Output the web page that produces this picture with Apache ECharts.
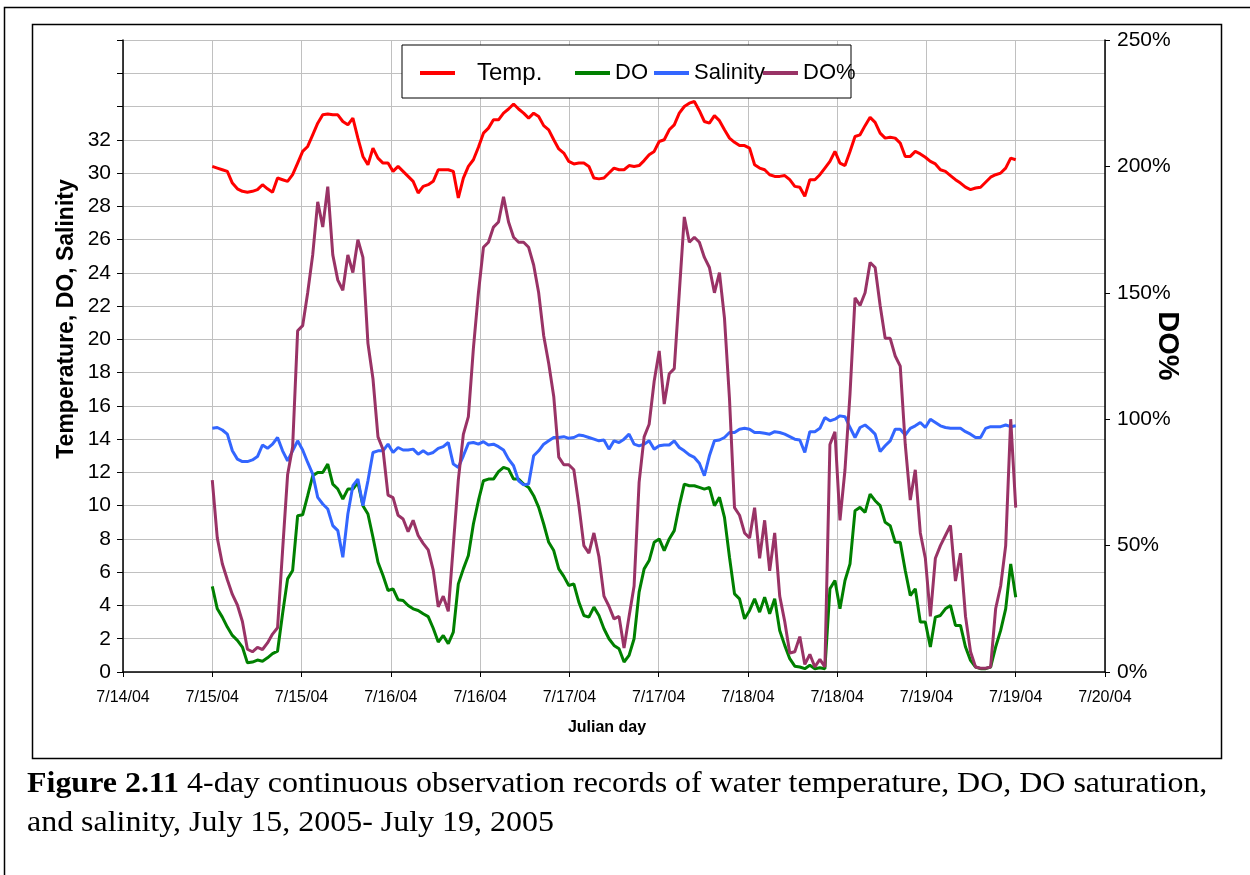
<!DOCTYPE html>
<html>
<head>
<meta charset="utf-8">
<title>Figure 2.11</title>
<script src="https://cdn.jsdelivr.net/npm/echarts@6/dist/echarts.min.js"></script>
<style>
  html, body { margin: 0; padding: 0; background: #fff; }
  #chart { width: 1250px; height: 875px; }
</style>
</head>
<body>
<div id="chart"></div>
<script>
// tick labels of the date axis (Excel prints only the date part)
var xLabels = ['7/14/04', '7/15/04', '7/15/04', '7/16/04', '7/16/04', '7/17/04',
  '7/17/04', '7/18/04', '7/18/04', '7/19/04', '7/19/04', '7/20/04'];
var leftTicks = [0, 2, 4, 6, 8, 10, 12, 14, 16, 18, 20, 22, 24, 26, 28, 30, 32];
var rightTicks = [0, 50, 100, 150, 200, 250];

// logger records run from the 2nd to the 10th axis tick, evenly spaced
var recStart = 1;
var recEnd = 10;

// water temperature (deg C)
var temp = [
  30.4, 30.3, 30.2, 30.1, 29.4, 29.05, 28.9, 28.85, 28.9, 29.0,
  29.3, 29.05, 28.85, 29.7, 29.6, 29.5, 29.9, 30.6, 31.3, 31.6,
  32.3, 33.0, 33.5, 33.55, 33.5, 33.5, 33.1, 32.9, 33.3, 32.1,
  31.0, 30.5, 31.5, 30.9, 30.6, 30.6, 30.1, 30.4, 30.1, 29.8,
  29.5, 28.8, 29.2, 29.3, 29.5, 30.2, 30.2, 30.2, 30.1, 28.5,
  29.7, 30.4, 30.8, 31.55, 32.4, 32.7, 33.2, 33.2, 33.6, 33.85,
  34.15, 33.85, 33.6, 33.3, 33.6, 33.4, 32.85, 32.6, 32.0, 31.45,
  31.2, 30.7, 30.55, 30.6, 30.6, 30.4, 29.7, 29.65, 29.7, 30.0,
  30.3, 30.2, 30.2, 30.45, 30.4, 30.45, 30.75, 31.1, 31.3, 31.9,
  32.0, 32.6, 32.9, 33.6, 34.0, 34.2, 34.3, 33.75, 33.1, 33.0,
  33.45, 33.15, 32.6, 32.1, 31.85, 31.65, 31.65, 31.5, 30.5, 30.3,
  30.2, 29.9, 29.8, 29.8, 29.85, 29.6, 29.2, 29.15, 28.6, 29.6,
  29.6, 29.9, 30.3, 30.7, 31.3, 30.6, 30.45, 31.3, 32.2, 32.3,
  32.85, 33.35, 33.05, 32.4, 32.1, 32.15, 32.1, 31.8, 31.0, 31.0,
  31.3, 31.15, 30.95, 30.7, 30.55, 30.2, 30.1, 29.85, 29.6, 29.4,
  29.15, 29.0, 29.1, 29.15, 29.45, 29.75, 29.9, 30.0, 30.3, 30.9,
  30.8
];

// dissolved oxygen (mg/L)
var dO = [
  5.15, 3.8, 3.3, 2.7, 2.2, 1.9, 1.5, 0.55, 0.6, 0.72,
  0.65, 0.85, 1.1, 1.25, 3.5, 5.6, 6.1, 9.4, 9.45, 10.6,
  11.8, 12.0, 12.0, 12.5, 11.3, 11.0, 10.4, 11.0, 11.0, 11.4,
  10.0, 9.5, 8.1, 6.6, 5.8, 4.9, 5.0, 4.35, 4.3, 4.0,
  3.8, 3.7, 3.5, 3.33, 2.63, 1.8, 2.2, 1.7, 2.4, 5.3,
  6.2, 7.0, 8.9, 10.3, 11.5, 11.6, 11.6, 12.05, 12.3, 12.2,
  11.6, 11.6, 11.3, 11.1, 10.6, 9.9, 8.9, 7.8, 7.3, 6.2,
  5.75, 5.2, 5.3, 4.2, 3.4, 3.3, 3.9, 3.4, 2.6, 2.0,
  1.6, 1.4, 0.6, 1.0, 2.0, 4.8, 6.2, 6.7, 7.8, 8.0,
  7.3, 8.0, 8.5, 10.0, 11.3, 11.2, 11.2, 11.1, 11.0, 11.1,
  10.0, 10.5, 9.3, 6.9, 4.7, 4.4, 3.2, 3.7, 4.4, 3.6,
  4.5, 3.5, 4.4, 2.5, 1.6, 0.8, 0.35, 0.3, 0.2, 0.4,
  0.2, 0.25, 0.2, 5.0, 5.5, 3.8, 5.5, 6.5, 9.7, 9.9,
  9.6, 10.7, 10.3, 10.0, 9.0, 8.8, 7.8, 7.8, 6.1, 4.6,
  5.0, 3.0, 3.0, 1.5, 3.3, 3.4, 3.8, 4.0, 2.8, 2.8,
  1.5, 0.7, 0.3, 0.2, 0.2, 0.3, 1.5, 2.5, 3.8, 6.5,
  4.5
];

// salinity (ppt)
var salinity = [
  14.65, 14.7, 14.55, 14.3, 13.3, 12.8, 12.65, 12.65, 12.75, 12.95,
  13.65, 13.45, 13.7, 14.1, 13.3, 12.7, 13.3, 13.9, 13.35, 12.6,
  11.9, 10.5, 10.1, 9.8, 8.8, 8.5, 6.9, 9.5, 11.2, 11.6,
  10.0, 11.5, 13.2, 13.3, 13.3, 13.7, 13.2, 13.5, 13.35, 13.35,
  13.4, 13.1, 13.3, 13.1, 13.2, 13.45, 13.55, 13.8, 12.5, 12.3,
  13.0, 13.75, 13.8, 13.7, 13.85, 13.65, 13.7, 13.55, 13.35, 12.8,
  12.4, 11.5, 11.25, 11.3, 13.0, 13.3, 13.7, 13.9, 14.1, 14.1,
  14.15, 14.05, 14.1, 14.25, 14.2, 14.1, 14.0, 13.9, 13.95, 13.4,
  13.9, 13.8, 14.0, 14.3, 13.7, 13.6, 13.7, 13.9, 13.4, 13.6,
  13.65, 13.65, 13.9, 13.5, 13.3, 13.05, 12.9, 12.55, 11.8, 13.0,
  13.9, 13.95, 14.1, 14.4, 14.4, 14.6, 14.65, 14.6, 14.4, 14.4,
  14.35, 14.3, 14.45, 14.4, 14.3, 14.15, 14.0, 13.95, 13.2, 14.45,
  14.45, 14.65, 15.3, 15.1, 15.2, 15.4, 15.35, 14.7, 14.1, 14.7,
  14.85, 14.6, 14.3, 13.25, 13.6, 13.9, 14.6, 14.6, 14.25, 14.65,
  14.8, 15.0, 14.7, 15.2, 15.0, 14.8, 14.7, 14.65, 14.65, 14.65,
  14.45, 14.3, 14.1, 14.1, 14.65, 14.75, 14.75, 14.75, 14.85, 14.75,
  14.8
];

// DO saturation (%)
var doPct = [
  75.9, 53, 42.8, 36.5, 30.7, 26.5, 20, 9, 8, 9.7,
  8.9, 11.5, 15, 17.5, 48, 78, 89, 135, 137, 150,
  165, 186, 176, 192, 165, 155, 151, 165, 158, 171,
  164, 130, 116, 93, 88, 70, 69, 62, 60.5, 55.5,
  60, 54, 50.9, 48.3, 40.3, 25.8, 30, 24, 50, 76,
  94, 101, 128, 150, 168, 170, 176, 178, 188, 178,
  172, 170, 170, 168, 161, 150, 133, 122, 109, 85,
  82, 82, 80, 66, 50, 47, 55, 45.6, 30, 26,
  21, 22, 9.5, 22, 34, 75, 93, 98, 115, 127,
  106, 118, 120, 150, 180, 170, 172, 170, 164, 160,
  150, 158, 140, 108, 65, 62, 55, 53, 65, 45,
  60, 40, 55, 30, 20, 7.5, 8, 14, 3, 7,
  2, 5, 2, 90, 95, 60, 80, 110, 148, 145,
  150, 162, 160, 145, 132, 132, 125, 121, 90, 68,
  80, 55, 45, 22, 45, 50, 54, 58, 36, 47,
  22, 8, 2, 1.5, 1.5, 2, 25, 34, 50, 100,
  65
];

function withTime(values) {
  var step = (recEnd - recStart) / (values.length - 1);
  return values.map(function (v, i) { return [recStart + i * step, v]; });
}

var sans = '"Liberation Sans", Arial, sans-serif';
var serif = '"Liberation Serif", "Times New Roman", serif';

var chart = echarts.init(document.getElementById('chart'));

function lineSeries(name, color, values, yIdx) {
  return {
    name: name,
    type: 'line',
    yAxisIndex: yIdx,
    data: withTime(values),
    showSymbol: false,
    symbol: 'none',
    animation: false,
    lineStyle: { color: color, width: 3 },
    itemStyle: { color: color }
  };
}

function legendItem(name, left, top, extra) {
  return {
    data: [name],
    left: left,
    top: top,
    padding: 0,
    z: 20,
    icon: 'rect',
    itemWidth: 35,
    itemHeight: 4,
    selectedMode: false,
    textStyle: Object.assign({ fontFamily: sans, fontSize: 22, color: '#000', lineHeight: 30 }, extra || {})
  };
}

var option = {
  backgroundColor: '#fff',
  animation: false,
  grid: { left: 123, top: 40, width: 982, height: 632 },
  legend: [
    legendItem('Temp.', 420, 58, { fontSize: 24, padding: [0, 0, 0, 17] }),
    legendItem('DO', 575, 54, { padding: [8, 0, 0, 0] }),
    legendItem('Salinity', 654, 54, { padding: [8, 0, 0, 0] }),
    legendItem('DO%', 763, 54, { padding: [8, 0, 0, 0] })
  ],
  xAxis: {
    type: 'value',
    min: 0,
    max: xLabels.length - 1,
    interval: 1,
    axisLine: { lineStyle: { color: '#000', width: 1.5 } },
    axisTick: { show: true, length: 5, lineStyle: { color: '#000' } },
    axisLabel: {
      color: '#000', fontFamily: sans, fontSize: 16, margin: 18,
      formatter: function (v) { return xLabels[v] || ''; }
    },
    splitLine: { show: true, lineStyle: { color: '#c0c0c0', width: 1 } }
  },
  yAxis: [
    {
      type: 'value',
      min: 0,
      max: 38,
      interval: 2,
      axisLine: { show: true, lineStyle: { color: '#000', width: 1.5 } },
      axisTick: { show: true, length: 6, lineStyle: { color: '#000' } },
      axisLabel: {
        color: '#000', fontFamily: sans, fontSize: 21, margin: 12,
        formatter: function (v) { return leftTicks.indexOf(v) >= 0 ? String(v) : ''; }
      },
      splitLine: { show: true, lineStyle: { color: '#c0c0c0', width: 1 } }
    },
    {
      type: 'value',
      position: 'right',
      min: 0,
      max: 250,
      interval: 50,
      axisLine: { show: true, lineStyle: { color: '#000', width: 1.5 } },
      axisTick: { show: true, length: 5, lineStyle: { color: '#000' } },
      axisLabel: {
        color: '#000', fontFamily: sans, fontSize: 21, margin: 12,
        formatter: function (v) { return rightTicks.indexOf(v) >= 0 ? v + '%' : ''; }
      },
      splitLine: { show: false }
    }
  ],
  series: [
    lineSeries('Temp.', '#ff0000', temp, 0),
    lineSeries('DO', '#008000', dO, 0),
    lineSeries('Salinity', '#3366ff', salinity, 0),
    lineSeries('DO%', '#993366', doPct, 1)
  ],
  graphic: [
    // page border (left and top edges)
    { type: 'polyline', z: 1, shape: { points: [[4.5, 875], [4.5, 7.5], [1250, 7.5]] },
      style: { stroke: '#000', lineWidth: 1.5, fill: null } },
    // chart area frame
    { type: 'rect', z: 1, shape: { x: 32.5, y: 24.5, width: 1189, height: 734 },
      style: { stroke: '#000', lineWidth: 1.5, fill: null } },
    // legend box
    { type: 'rect', z: 10, shape: { x: 402, y: 45, width: 449, height: 53 },
      style: { stroke: '#000', lineWidth: 1, fill: '#fff' } },
    // axis titles
    { type: 'text', z: 10, x: 67, y: 319, rotation: Math.PI / 2,
      style: { text: 'Temperature, DO, Salinity', fontFamily: sans, fontWeight: 'bold', fontSize: 23,
        fill: '#000', align: 'center', verticalAlign: 'middle' } },
    { type: 'text', z: 10, x: 1167, y: 346, rotation: -Math.PI / 2,
      style: { text: 'DO%', fontFamily: sans, fontWeight: 'bold', fontSize: 29,
        fill: '#000', align: 'center', verticalAlign: 'middle' } },
    { type: 'text', z: 10, x: 607, y: 728,
      style: { text: 'Julian day', fontFamily: sans, fontWeight: 'bold', fontSize: 16,
        fill: '#000', align: 'center', verticalAlign: 'middle' } },
    // figure caption (the original is printed slightly wide)
    { type: 'text', z: 10, x: 27, y: 784, scaleX: 1.065,
      style: { text: '{b|Figure 2.11} 4-day continuous observation records of water temperature, DO, DO saturation,',
        fontFamily: serif, fontSize: 30, fill: '#000', align: 'left', verticalAlign: 'middle',
        rich: { b: { fontFamily: serif, fontSize: 30, fontWeight: 'bold' } } } },
    { type: 'text', z: 10, x: 27, y: 823, scaleX: 1.065,
      style: { text: 'and salinity, July 15, 2005- July 19, 2005',
        fontFamily: serif, fontSize: 30, fill: '#000', align: 'left', verticalAlign: 'middle' } }
  ]
};

chart.setOption(option);
</script>
</body>
</html>
